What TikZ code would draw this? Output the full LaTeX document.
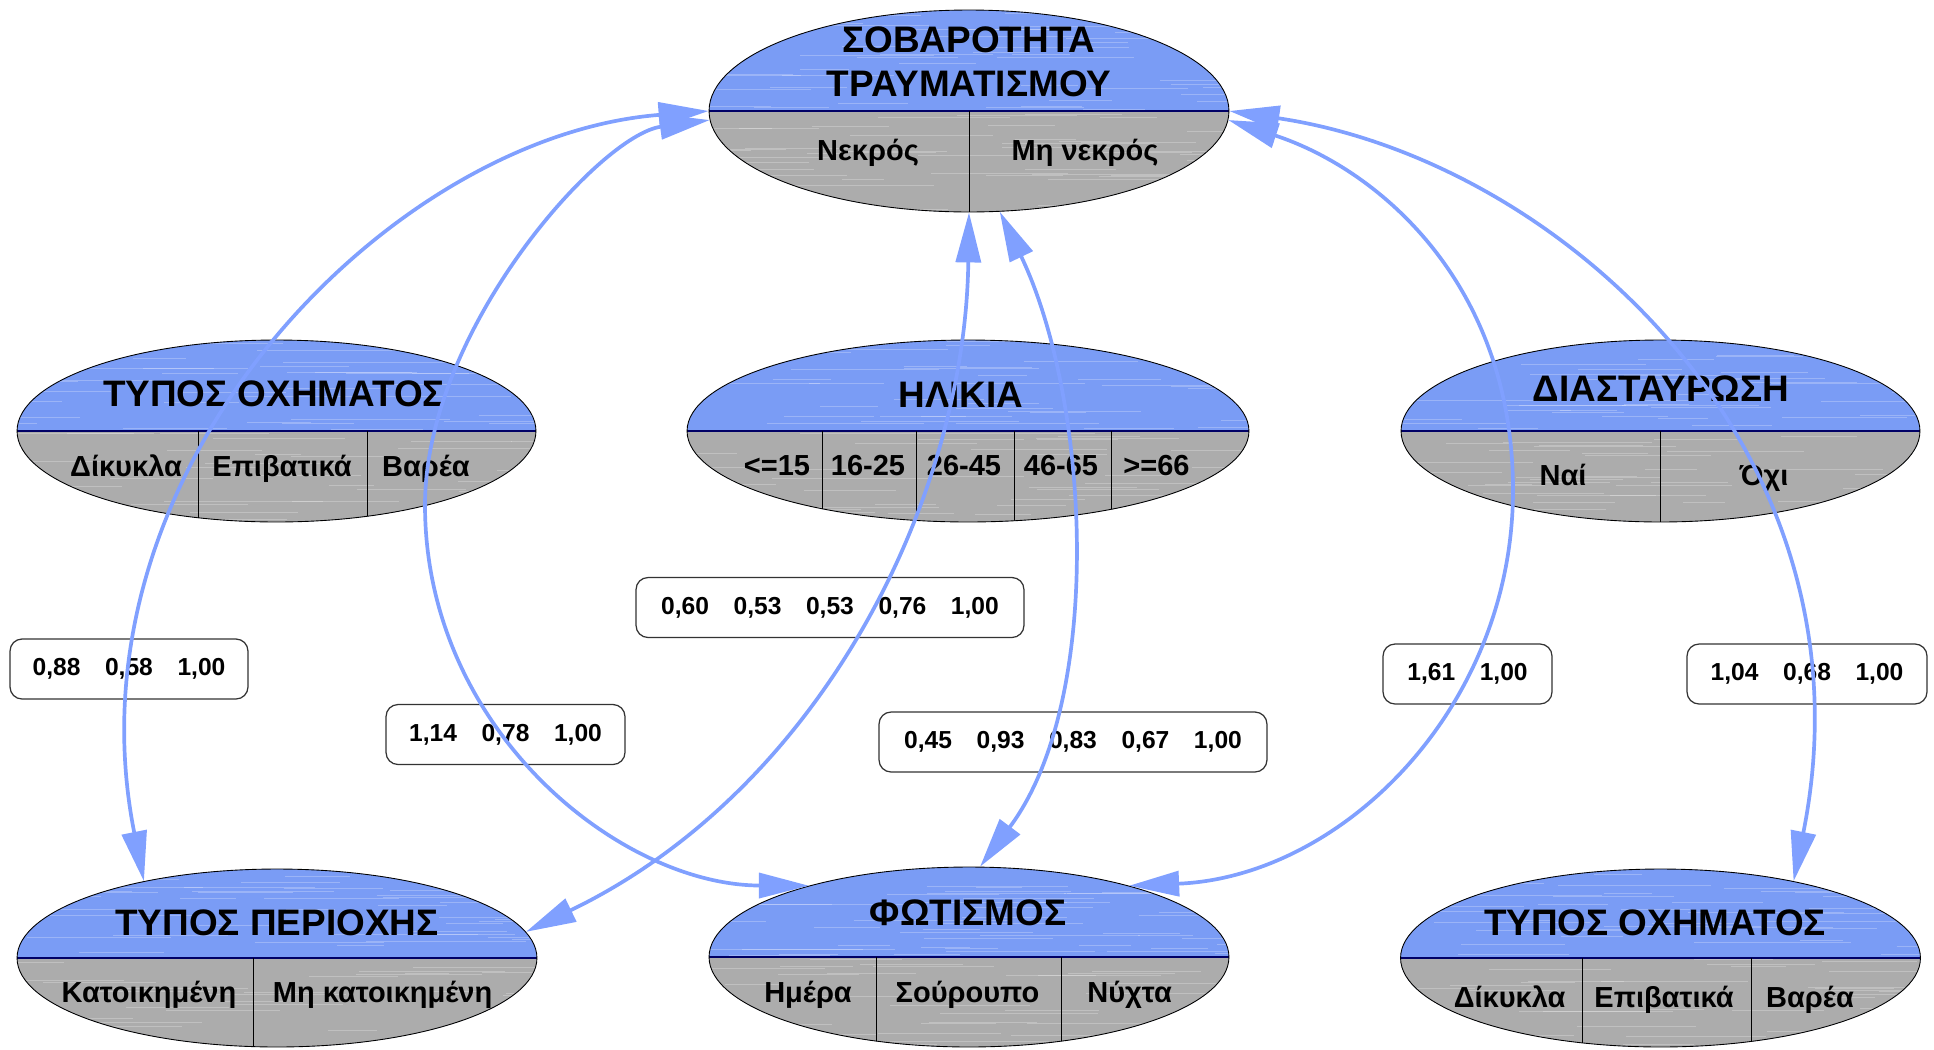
\documentclass[tikz,border=0pt]{standalone}
\usepackage{fontspec}
\setmainfont{Liberation Sans}
\usetikzlibrary{shapes.geometric,arrows.meta}

\definecolor{headblue}{RGB}{122,156,245}
\definecolor{cellgrey}{RGB}{172,172,172}
\definecolor{linkblue}{RGB}{128,160,255}

\pgfmathsetseed{11}
\tikzset{
  var/.style={ellipse, draw=black, line width=0.5pt, fill=headblue, inner sep=0pt,
    path picture={
      \fill[cellgrey] (path picture bounding box.west) rectangle (path picture bounding box.south east);
      % brushed streaks
      \foreach \k in {1,...,90}{
        \pgfmathsetmacro\sx{rnd*560-300}
        \pgfmathsetmacro\sy{rnd*210-105}
        \pgfmathsetmacro\sl{40+rnd*120}
        \draw[white, opacity=0.25, line width=0.4pt] (path picture bounding box.center) ++(\sx,\sy) -- ++(\sl,0);
      }
      \draw[line width=0.8pt, black!60!blue] (path picture bounding box.west) -- (path picture bounding box.east);
      \foreach \dx in {#1}{
        \draw[line width=0.5pt] (path picture bounding box.center) ++(\dx,0) -- ++(0,120);
      }
    }},
  title/.style={font=\fontsize{21}{25}\selectfont\bfseries, anchor=base, inner sep=0pt},
  cell/.style={font=\fontsize{16.5}{19}\selectfont\bfseries, anchor=base, inner sep=0pt},
  ratio/.style={draw=black!80, line width=0.7pt, rounded corners=0.24cm, fill=white,
    minimum height=1.2cm, inner sep=0pt, font=\fontsize{14}{16}\selectfont\bfseries},
  link/.style={draw=linkblue, line width=2.1pt,
    arrows={Triangle[length=1cm,width=0.5cm]-Triangle[length=1cm,width=0.5cm]}}
}

\begin{document}
\begin{tikzpicture}[x=0.02cm, y=-0.02cm]
    \useasboundingbox (0,0) rectangle (1934,1049);
    %% Variables
    \node[var={0}, minimum width=10.4cm, minimum height=4.04cm] (sev) at (969,111) {};
    \node[var={-78.5,90.5}, minimum width=10.38cm, minimum height=3.64cm] (veh) at (276.5,431) {};
    \node[var={-145.5,-51.2,46,143.5}, minimum width=11.24cm, minimum height=3.64cm] (age) at (968,431) {};
    \node[var={0}, minimum width=10.38cm, minimum height=3.64cm] (cross) at (1660.5,431) {};
    \node[var={-24}, minimum width=10.4cm, minimum height=3.56cm] (area) at (277,958) {};
    \node[var={-93,92.6}, minimum width=10.4cm, minimum height=3.6cm] (light) at (969,957) {};
    \node[var={-78.5,90.5}, minimum width=10.4cm, minimum height=3.56cm] (vehtwo) at (1660.5,958) {};
    %% Titles
    \node[title, anchor=center, align=center] (sevtitle) at (969,61.5) {ΣΟΒΑΡΟΤΗΤΑ\\ΤΡΑΥΜΑΤΙΣΜΟΥ};
    \node[title] (vehtitle) at (274,406) {ΤΥΠΟΣ ΟΧΗΜΑΤΟΣ};
    \node[title] (agetitle) at (961,407) {ΗΛΙΚΙΑ};
    \node[title] (crosstitle) at (1661,401) {ΔΙΑΣΤΑΥΡΩΣΗ};
    \node[title] (areatitle) at (277,935) {ΤΥΠΟΣ ΠΕΡΙΟΧΗΣ};
    \node[title] (lighttitle) at (968,925.5) {ΦΩΤΙΣΜΟΣ};
    \node[title] (vehtwotitle) at (1655,935.5) {ΤΥΠΟΣ ΟΧΗΜΑΤΟΣ};
    %% States
    \foreach \lab/\x [count=\i] in {Νεκρός/868, Μη νεκρός/1085}
        \node[cell] (sevst\i) at (\x,160) {\lab};
    \foreach \lab/\x [count=\i] in {Δίκυκλα/126, Επιβατικά/282, Βαρέα/426}
        \node[cell] (vehst\i) at (\x,476) {\lab};
    \foreach \lab/\x [count=\i] in {<=15/777, 16-25/868, 26-45/964, 46-65/1061, >=66/1156.5}
        \node[cell] (agest\i) at (\x,475) {\lab};
    \foreach \lab/\x [count=\i] in {Ναί/1563, Όχι/1764}
        \node[cell] (crossst\i) at (\x,485) {\lab};
    \foreach \lab/\x [count=\i] in {Κατοικημένη/149, Μη κατοικημένη/382.6}
        \node[cell] (areast\i) at (\x,1002) {\lab};
    \foreach \lab/\x [count=\i] in {Ημέρα/808, Σούρουπο/967.5, Νύχτα/1129.6}
        \node[cell] (lightst\i) at (\x,1002) {\lab};
    \foreach \lab/\x [count=\i] in {Δίκυκλα/1509.6, Επιβατικά/1664, Βαρέα/1810}
        \node[cell] (vehtwost\i) at (\x,1007) {\lab};
    %% Ratios
    \node[ratio, minimum width=4.76cm] (rrveh) at (129,669) {0,88\quad 0,58\quad 1,00};
    \node[ratio, minimum width=4.78cm] (rrvehlight) at (505.5,734.5) {1,14\quad 0,78\quad 1,00};
    \node[ratio, minimum width=7.76cm] (rrage) at (830,607.5) {0,60\quad 0,53\quad 0,53\quad 0,76\quad 1,00};
    \node[ratio, minimum width=7.76cm] (rragelight) at (1073,742) {0,45\quad 0,93\quad 0,83\quad 0,67\quad 1,00};
    \node[ratio, minimum width=3.38cm] (rrcross) at (1467.5,674) {1,61\quad 1,00};
    \node[ratio, minimum width=4.8cm] (rrcrossveh) at (1807,674) {1,04\quad 0,68\quad 1,00};
    %% Links
    \draw[link] (sev.west) .. controls (390,136) and (62,469) .. (area.150);
    \draw[link] (sev.182) .. controls (600,135) and (425,330) .. (425,505)
        .. controls (425,730) and (620,885) .. (light.156);
    \draw[link] (sev.south) .. controls (965,500) and (820,790) .. (area.6);
    \draw[link] (sev.287) .. controls (1090,400) and (1105,700) .. (light.83);
    \draw[link] (sev.358) .. controls (1380,170) and (1513,285) .. (1513,490)
        .. controls (1513,709) and (1341,877) .. (light.24);
    \draw[link] (sev.east) .. controls (1560,160) and (1880,450) .. (vehtwo.30);
\end{tikzpicture}
\end{document}
